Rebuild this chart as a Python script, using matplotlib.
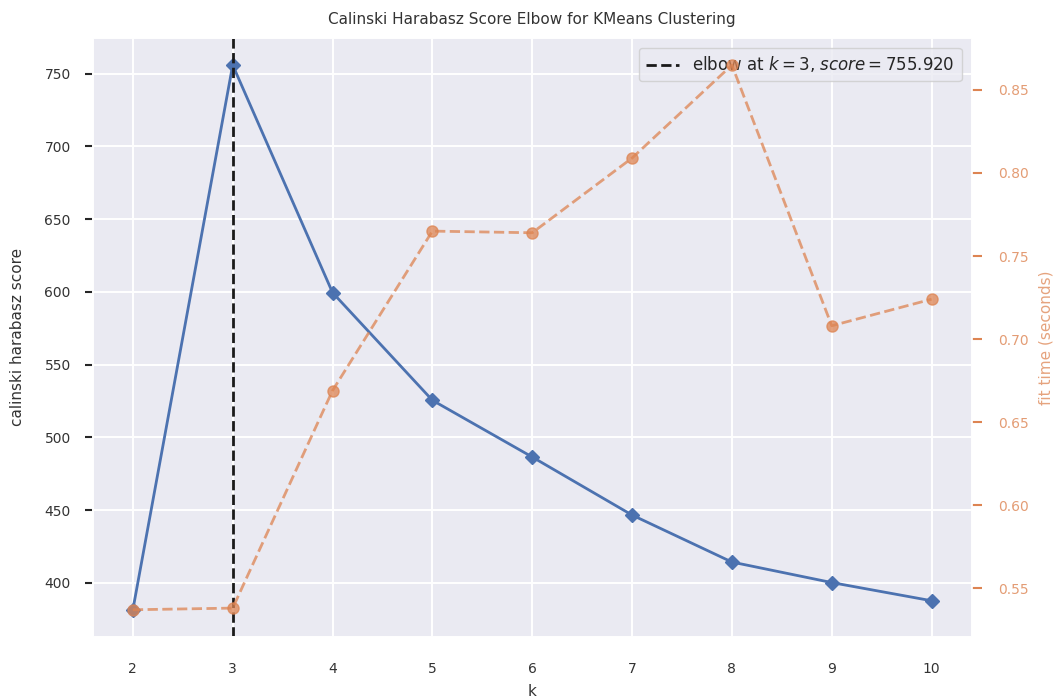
import matplotlib
matplotlib.use("Agg")
import matplotlib.pyplot as plt
import seaborn as sns

# k values tried and the resulting scores / fit times
k_values = [2, 3, 4, 5, 6, 7, 8, 9, 10]
ch_scores = [381.5, 755.920, 599.5, 525.5, 486.5, 446.6, 414.3, 400.2, 387.7]
fit_times = [0.537, 0.538, 0.669, 0.765, 0.764, 0.809, 0.865, 0.708, 0.724]
elbow_k = 3
elbow_score = 755.920

BLUE = "#4C72B0"
ORANGE = "#DD8452"

sns.set_theme(style="darkgrid", rc={"grid.linewidth": 1.4})
plt.rcParams["font.family"] = ["DejaVu Sans"]

fig = plt.figure(figsize=(10.56, 7.0), dpi=100)
ax = fig.add_axes([0.088, 0.09, 0.832, 0.856])

ax.plot(k_values, ch_scores, color=BLUE, marker="D", markersize=7.5,
        linewidth=2)
ax.axvline(elbow_k, color="k", linestyle="--", linewidth=2,
           label=f"elbow at $k={elbow_k}$, $score={elbow_score:.3f}$")

ax.set_title("Calinski Harabasz Score Elbow for KMeans Clustering",
             fontsize=11, color="#333333", pad=10)
ax.set_xlabel("k", fontsize=11, labelpad=6, color="#333333")
ax.set_ylabel("calinski harabasz score", fontsize=11, labelpad=14,
              color="#333333")
ax.set_xticks(k_values)
ax.tick_params(axis="y", length=6, width=1.5, color="#262626", pad=10,
               labelsize=10, labelcolor="#333333")
ax.tick_params(axis="x", length=6, color="#EAEAF2", pad=12, labelsize=10,
               labelcolor="#333333")
ax.legend(loc="upper right", fontsize=12, frameon=True, facecolor="#EAEAF2",
          edgecolor="#cccccc", framealpha=0.8, borderaxespad=0.6)

ax2 = ax.twinx()
ax2.plot(k_values, fit_times, color=ORANGE, marker="o", markersize=8,
         linestyle="--", linewidth=2, alpha=0.75)
ax2.set_ylabel("fit time (seconds)", color=ORANGE, alpha=0.75, fontsize=11,
               labelpad=7)
ax2.tick_params(axis="y", colors=ORANGE, length=7, width=1.5, pad=12,
                labelsize=10)
for t in ax2.get_yticklabels():
    t.set_alpha(0.8)
ax2.grid(False)

fig.savefig("out.png", dpi=100)
